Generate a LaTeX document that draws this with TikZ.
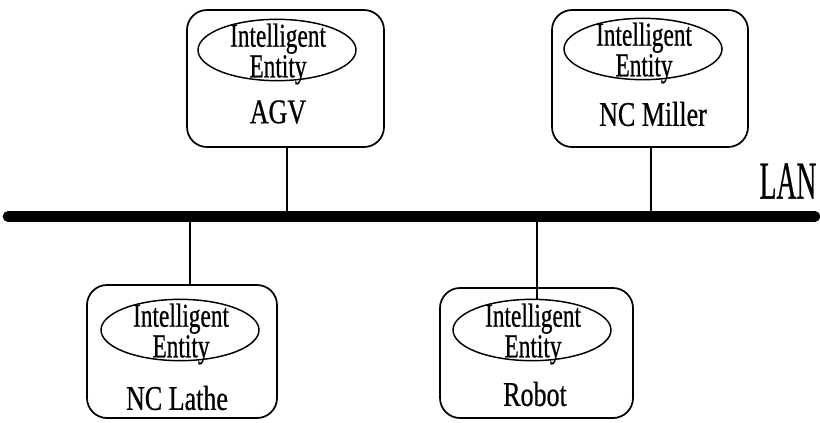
\documentclass[tikz,border=0pt]{standalone}
\usepackage{fontspec}
\setmainfont{Liberation Serif}[FakeStretch=0.7,FakeBold=0.6]
\newfontfamily\lblfont{Liberation Serif}[FakeStretch=0.75,FakeBold=0.6]
\usetikzlibrary{shapes.geometric}
\begin{document}
\begin{tikzpicture}[x=0.75pt,y=-0.75pt,
  unitbox/.style={draw, line width=1.3pt, rounded corners=15pt, inner sep=0pt},
  entity/.style={draw, ellipse, line width=1.1pt, minimum width=118.5pt, minimum height=46pt, inner sep=0pt},
  enttext/.style={align=center, inner sep=0pt, font=\fontsize{25}{19}\selectfont},
  lbl/.style={inner sep=0pt, font=\lblfont\fontsize{26}{28}\selectfont},
  lan/.style={line width=8pt, line cap=round},
  tap/.style={line width=0.9pt}]
\useasboundingbox (0,0) rectangle (820,422);
% boxes
\node[unitbox, minimum width=147.75pt, minimum height=102.75pt] (agv) at (285.5,78.5) {};
\node[unitbox, minimum width=147pt, minimum height=102.75pt] (miller) at (650,78.5) {};
\node[unitbox, minimum width=142.5pt, minimum height=99.75pt] (lathe) at (182,351.5) {};
\node[unitbox, minimum width=144.75pt, minimum height=97.5pt] (robot) at (536.5,353) {};
% ellipses
\node[entity] (eagv) at (277,50) {};
\node[entity] (emiller) at (643,49) {};
\node[entity] (elathe) at (180,330) {};
\node[entity] (erobot) at (532,330) {};
\node[enttext] (tagv) at (278,54) {Intelligent\\Entity};
\node[enttext] (tmiller) at (644,53) {Intelligent\\Entity};
\node[enttext] (tlathe) at (181,334) {Intelligent\\Entity};
\node[enttext] (trobot) at (533,334) {Intelligent\\Entity};
% labels
\node[lbl] (lagv) at (278,112) {AGV};
\node[lbl] (lmiller) at (653,114) {NC Miller};
\node[lbl] (llathe) at (177,398) {NC Lathe};
\node[lbl] (lrobot) at (535,394) {Robot};
% LAN
\coordinate (lanL) at (8,216.5);
\coordinate (lanR) at (815,216.5);
\draw[lan] (lanL) -- (lanR);
\node[inner sep=0pt, font=\fontsize{40}{42}\selectfont] (lanlabel) at (788,181) {\scalebox{0.74}[1]{LAN}};
% taps
\coordinate (p1) at (287,216.5);
\coordinate (p2) at (651,216.5);
\coordinate (p3) at (190,216.5);
\coordinate (p4) at (537,216.5);
\draw[tap] (p1) -- (p1 |- agv.south);
\draw[tap] (p2) -- (p2 |- miller.south);
\draw[tap] (p3) -- (p3 |- lathe.north);
\draw[tap] (p4) -- (p4 |- erobot.north);
\end{tikzpicture}
\end{document}
